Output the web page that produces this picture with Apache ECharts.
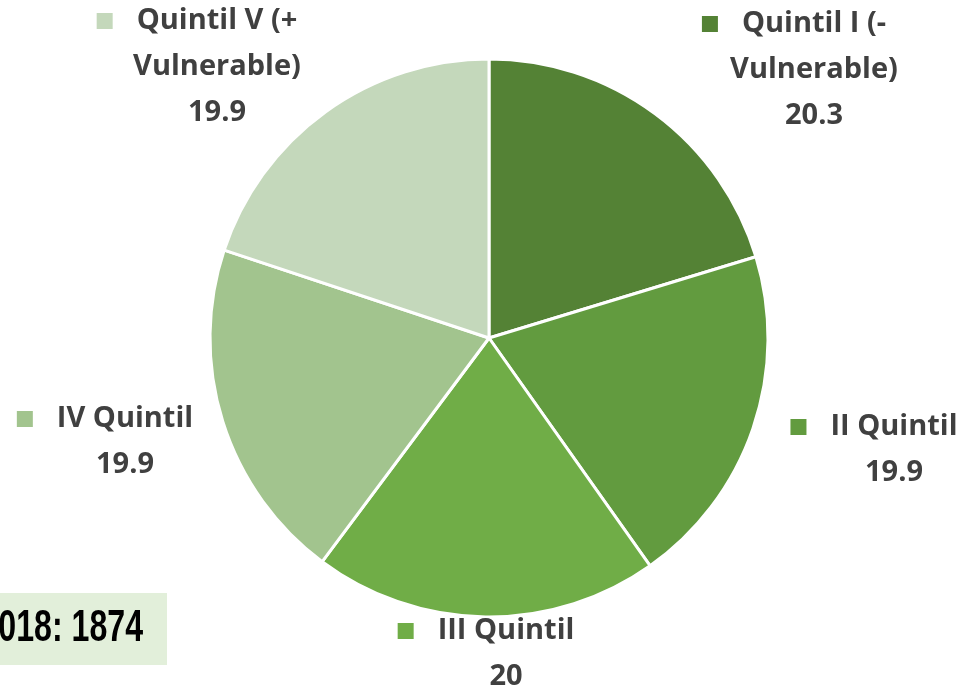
<!DOCTYPE html>
<html>
<head>
<meta charset="utf-8">
<script src="https://cdn.jsdelivr.net/npm/echarts@6/dist/echarts.min.js"></script>
<style>
  html, body { margin: 0; padding: 0; background: #fff; }
  #main { width: 963px; height: 689px; }
</style>
</head>
<body>
<div id="main"></div>
<script>
var names = ['Quintil I (-\nVulnerable)', 'II Quintil', 'III Quintil', 'IV Quintil', 'Quintil V (+\nVulnerable)'];
var values = [20.3, 19.9, 20, 19.9, 19.9];
var colors = ['#548235', '#629b3f', '#70ad47', '#a2c48e', '#c4d8bb'];
var totalText = '2018: 1874';

// where each data label sits (text centre)
var labelPos = [[814, 70], [894, 450], [506, 654], [125, 442], [217, 67]];

var chartDom = document.getElementById('main');
var myChart = echarts.init(chartDom);
var option;

var pieData = names.map(function (n, i) {
    return {
        name: n,
        value: values[i],
        itemStyle: {color: colors[i]},
        // little colour key in front of the label
        label: {rich: {sq: {backgroundColor: colors[i], width: 16, height: 16}}}
    };
});

option = {
    animation: false,
    graphic: [
        {
            type: 'rect',
            shape: {x: 0, y: 593, width: 167, height: 72},
            style: {fill: '#e2efda'}
        },
        {
            type: 'text',
            x: 143, y: 629,
            scaleX: 0.73,
            style: {
                text: totalText,
                font: 'bold 44px "Liberation Sans", Arial, sans-serif',
                fill: '#000',
                align: 'right',
                verticalAlign: 'middle'
            }
        }
    ],
    series: [
        {
            type: 'pie',
            center: [489, 338],
            radius: 279,
            startAngle: 90,
            clockwise: true,
            data: pieData,
            itemStyle: {borderColor: '#fff', borderWidth: 3},
            labelLine: {show: false},
            label: {
                show: true,
                position: 'inside',
                overflow: 'none',
                formatter: function (p) {
                    var lines = p.name.split('\n');
                    var out = '{sq|}{gap|}{t|' + lines[0] + '}{gap2|}';
                    for (var i = 1; i < lines.length; i++) {
                        out += '\n{t|' + lines[i] + '}';
                    }
                    out += '\n{t|' + p.value + '}';
                    return out;
                },
                rich: {
                    t: {
                        fontFamily: '"Open Sans", sans-serif',
                        fontWeight: 'bold',
                        fontSize: 29,
                        color: '#404040',
                        lineHeight: 46
                    },
                    sq: {width: 16, height: 16},
                    gap: {width: 24},
                    gap2: {width: 40}
                }
            },
            labelLayout: function (params) {
                var p = labelPos[params.dataIndex];
                return {x: p[0], y: p[1], align: 'center', verticalAlign: 'middle'};
            }
        }
    ]
};

option && myChart.setOption(option);
</script>
</body>
</html>
